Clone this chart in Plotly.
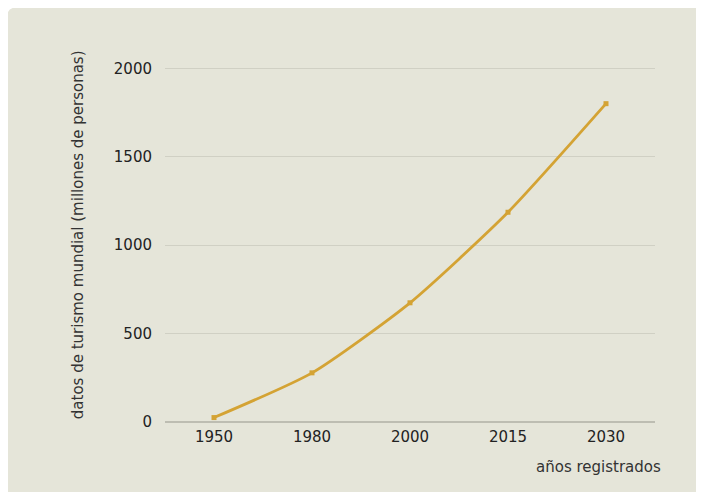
import plotly.graph_objects as go

years = ["1950", "1980", "2000", "2015", "2030"]
tourists = [25, 278, 674, 1186, 1800]
y_ticks = [0, 500, 1000, 1500, 2000]

# page has an 8px body margin; figure coords = screen coords - 8
OFF = 8
Y_MAX = 2030
scale = (422 - 68) / 2000.0          # screen px per unit
top_px = 422 - Y_MAX * scale         # screen y of Y_MAX
W, H = 704 - OFF, 492 - OFF
L, T = 165 - OFF, top_px - OFF
R = W - (655 - OFF)
B = H - (422 - OFF)
pw, ph = W - L - R, H - T - B

def px_x(x):
    return (x - OFF - L) / pw

def px_y(y):
    return (H - B - (y - OFF)) / ph

fig = go.Figure()
fig.add_trace(go.Scatter(
    x=years, y=tourists, mode="lines+markers",
    line=dict(color="#d4a334", width=2.8, shape="spline", smoothing=0.6),
    marker=dict(size=5, color="#d4a334", symbol="square"),
    hoverinfo="x+y", showlegend=False,
))

font_family = "DejaVu Sans, sans-serif"

# card background with rounded top-left corner
x0, y0 = px_x(7), px_y(7)
x1, y1 = px_x(720), px_y(510)
rx, ry = 10 / pw, 10 / ph
path = (f"M {x0},{y0 - ry} Q {x0},{y0} {x0 + rx},{y0} L {x1},{y0} "
        f"L {x1},{y1} L {x0},{y1} Z")

fig.update_layout(
    width=W, height=H,
    margin=dict(l=L, r=R, t=T, b=B),
    paper_bgcolor="white",
    plot_bgcolor="rgba(0,0,0,0)",
    font=dict(family=font_family, size=15, color="#222222"),
    shapes=[dict(type="path", path=path, xref="paper", yref="paper",
                 fillcolor="#e5e5d9", line=dict(width=0), layer="below")],
    xaxis=dict(
        type="category", range=[-0.5, 4.5], showgrid=False, zeroline=False,
        showline=False, ticks="", tickfont=dict(size=15, color="#222222"),
        ticklabelstandoff=4,
    ),
    yaxis=dict(
        range=[0, Y_MAX], tickvals=y_ticks, showgrid=True, gridcolor="#d0d0c4",
        gridwidth=1, zeroline=True, zerolinecolor="#bdbdb2", zerolinewidth=1.5,
        showline=False, ticks="", ticklabelstandoff=12,
        tickfont=dict(size=15, color="#222222"),
    ),
    annotations=[
        dict(text="años registrados", xref="paper", yref="paper",
             x=px_x(663), y=px_y(467), xanchor="right", yanchor="middle",
             showarrow=False, font=dict(size=15, color="#333333")),
        dict(text="datos de turismo mundial (millones de personas)",
             xref="paper", yref="paper", x=px_x(78), y=px_y(235),
             xanchor="center", yanchor="middle", textangle=-90,
             showarrow=False, font=dict(size=15, color="#333333")),
    ],
)

fig.write_html("out.html")
